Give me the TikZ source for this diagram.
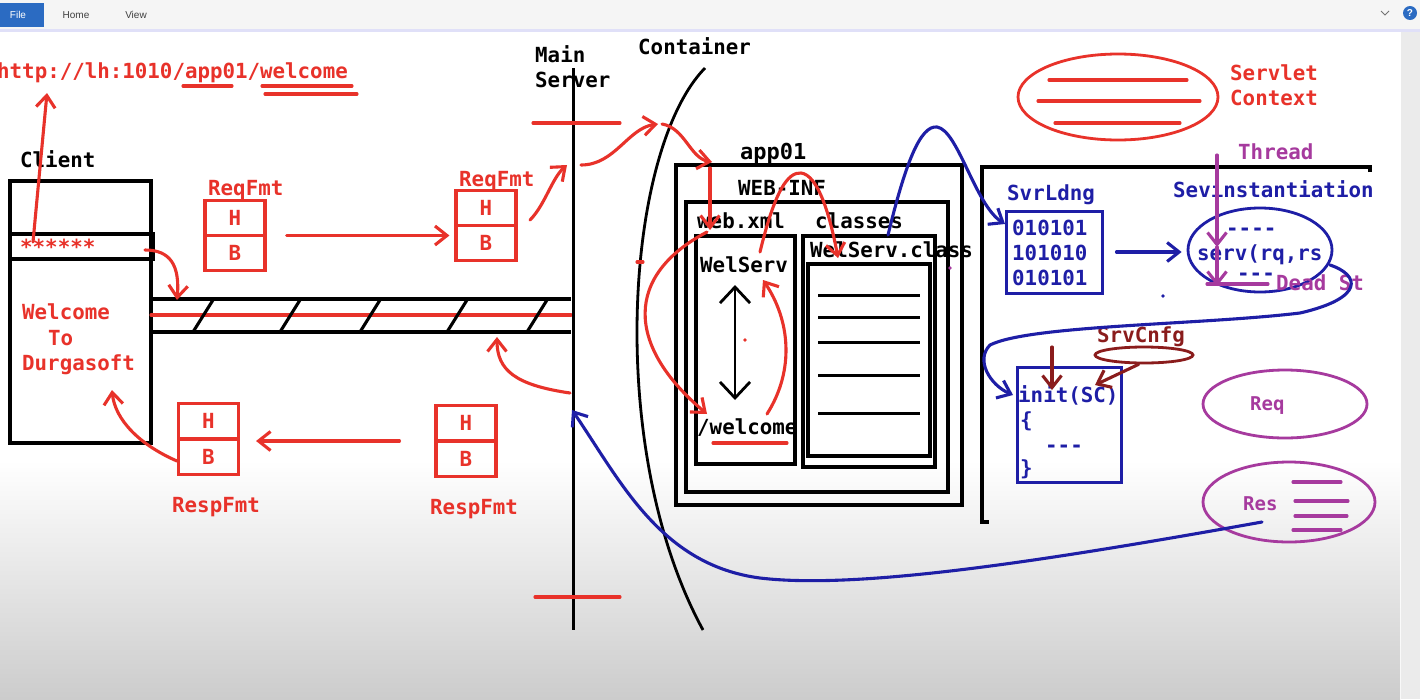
\documentclass[tikz,border=0pt]{standalone}
\usepackage{fontspec}
\setmonofont{DejaVu Sans Mono}
\setsansfont{Liberation Sans}
\usetikzlibrary{arrows.meta,shapes}

\definecolor{paintred}{HTML}{E8322A}
\definecolor{paintblue}{HTML}{1E1EA6}
\definecolor{paintpurple}{HTML}{A63A9E}
\definecolor{paintmaroon}{HTML}{8A1C1C}
\definecolor{ribbonblue}{HTML}{2B6BC2}

\begin{document}
\begin{tikzpicture}[x=1pt,y=-1pt]
\tikzset{every node/.style={inner sep=0pt},
txt/.style={font=\fontsize{20.8}{25}\selectfont\ttfamily\bfseries,anchor=base west},
redtxt/.style={txt,text=paintred},
bluetxt/.style={txt,text=paintblue},
purpletxt/.style={txt,text=paintpurple},
pen/.style={line width=3.1pt,line cap=round,line join=round},
redpen/.style={pen,draw=paintred},
bluepen/.style={pen,draw=paintblue},
purplepen/.style={pen,draw=paintpurple},
maroonpen/.style={pen,draw=paintmaroon},
blackpen/.style={line width=3.5pt,draw=black},
hbbox/.style={rectangle split,rectangle split parts=2,draw=paintred,line width=3.1pt,
  text=paintred,font=\fontsize{20.8}{25}\selectfont\ttfamily\bfseries,
  minimum width=60pt,inner ysep=8.5pt,align=center},
oval/.style={ellipse,line width=2.8pt},
>={Straight Barb[length=12pt,width=19pt]}}
\useasboundingbox (0,0) rectangle (1420,699);

% window
\fill[white] (0,0) rectangle (1420,699);
\shade[top color=white,bottom color=black!20] (0,460) rectangle (1400,699);
\fill[black!4] (0,0) rectangle (1420,29);
\fill[black!22!blue!12] (0,29) rectangle (1420,32);
\fill[ribbonblue] (0,3) rectangle (44,27);
\node[font=\sffamily\fontsize{10}{12}\selectfont,text=white] (menu-file) at (18,15) {File};
\node[font=\sffamily\fontsize{10}{12}\selectfont,text=black!75] (menu-home) at (76,15) {Home};
\node[font=\sffamily\fontsize{10}{12}\selectfont,text=black!75] (menu-view) at (136,15) {View};
\draw[black!55,line width=1pt] (1381,11) -- (1385,15) -- (1389,11);
\node[circle,fill=ribbonblue,text=white,minimum size=14pt,font=\sffamily\bfseries\fontsize{10}{12}\selectfont] (help-icon) at (1410,13) {?};
\fill[black!8] (1401,32) rectangle (1420,699);

% client side
\node[redtxt] (url) at (-3,78) {http://lh:1010/app01/welcome};
\draw[redpen] (183,86) -- (232,86);
\draw[redpen] (262,86) -- (352,86);
\draw[redpen] (265,94) -- (357,94);
\node[txt] (client) at (20,167) {Client};
\draw[blackpen] (10,181) rectangle (151,443);
\draw[blackpen] (10,234) rectangle (153,259);
\node[redtxt] (stars) at (20,254) {******};
\node[redtxt] (welcome) at (22,319) {Welcome};
\node[redtxt] (welcome-to) at (48,345) {To};
\node[redtxt] (durgasoft) at (22,370) {Durgasoft};

% wire
\draw[blackpen] (151,299) -- (571,299) (151,332) -- (571,332);
\draw[redpen] (151,315) -- (571,315);
\foreach \hx in {193,280,360,447,527}
  \draw[line width=3.1pt] (\hx,332) -- ++(20,-32);

% request and response formats
\node[redtxt] (req-lbl-a) at (208,195) {ReqFmt};
\node[hbbox] (req-fmt-a) at (235,235.5) {H\nodepart{second}B};
\node[redtxt] (req-lbl-b) at (459,186) {ReqFmt};
\node[hbbox] (req-fmt-b) at (486,225.5) {H\nodepart{second}B};
\node[hbbox] (resp-fmt-a) at (208.5,439) {H\nodepart{second}B};
\node[redtxt] (resp-lbl-a) at (172,512) {RespFmt};
\node[hbbox] (resp-fmt-b) at (466,441) {H\nodepart{second}B};
\node[redtxt] (resp-lbl-b) at (430,514) {RespFmt};

% main server
\node[txt] (main-lbl) at (535,62) {Main};
\node[txt] (server-lbl) at (535,87) {Server};
\draw[line width=3pt] (573,68) -- (573,630);
\draw[redpen] (533,123) -- (620,123);
\draw[redpen] (535,597) -- (620,597);

% container
\node[txt] (container) at (638,54) {Container};
\draw[line width=2.8pt] (705,68) .. controls (625,150) and (605,450) .. (703,630);
\draw[redpen] (637,262) -- (643,262);

% app01
\node[txt,font=\fontsize{22}{26}\selectfont\ttfamily\bfseries] (app01) at (740,159) {app01};
\draw[blackpen] (676,165) rectangle (962,505);
\draw[blackpen] (686,202) rectangle (948,492);
\node[txt] (web-inf) at (738,195) {WEB-INF};
\node[txt] (web-xml) at (697,228) {web.xml};
\node[txt] (classes) at (815,228) {classes};
\draw[blackpen] (696,236) rectangle (795,464);
\draw[blackpen] (803,236) rectangle (935,467);
\node[txt] (wel-serv) at (700,272) {WelServ};
\node[txt] (wel-class) at (810,257) {WelServ.class};
\draw[blackpen] (808,264) rectangle (930,456);
\foreach \ly in {295,317,342,375,413}
  \draw[line width=3pt] (818,\ly) -- (920,\ly);
\node[txt] (welcome-url) at (697,434) {/welcome};
\draw[redpen] (713,443) -- (787,443);
\draw[line width=2.8pt,{Straight Barb[length=16pt,width=30pt]}-{Straight Barb[length=16pt,width=30pt]}]
  (735,285) -- (735,400);
\fill[paintred] (745,340) circle (1.8);
\fill[paintpurple] (950,268) circle (1.8);

% servlet context
\node[oval,draw=paintred,minimum width=200pt,minimum height=86pt] (ctx-oval) at (1118,97) {};
\draw[redpen] (1049,80) -- (1187,80) (1038,101) -- (1200,101) (1055,123) -- (1180,123);
\node[redtxt] (ctx-lbl-a) at (1230,80) {Servlet};
\node[redtxt] (ctx-lbl-b) at (1230,105) {Context};

% servlet area
\draw[line width=3.5pt] (1370,172) -- (1370,167) -- (982,167) -- (982,522) -- (989,522);
\node[bluetxt] (svr-ldng) at (1007,200) {SvrLdng};
\node[draw=paintblue,line width=3pt,minimum width=96pt,minimum height=82pt] (byte-box) at (1054,252) {};
\node[bluetxt] (bits-a) at (1012,235) {010101};
\node[bluetxt] (bits-b) at (1012,260) {101010};
\node[bluetxt] (bits-c) at (1012,285) {010101};
\node[bluetxt] (inst-lbl) at (1173,197) {Sevinstantiation};
\node[oval,draw=paintblue,minimum width=144pt,minimum height=84pt] (serv-oval) at (1260,250) {};
\node[bluetxt] (serv-top) at (1226,235) {----};
\node[bluetxt] (serv-call) at (1197,260) {serv(rq,rs};
\node[bluetxt] (serv-bot) at (1237,280) {---};
\node[purpletxt] (thread) at (1238,159) {Thread};
\node[purpletxt] (dead-st) at (1276,290) {Dead St};
\fill[paintblue] (1163,296) circle (1.8);

\node[txt,text=paintmaroon] (srv-cnfg) at (1097,342) {SrvCnfg};
\node[oval,draw=paintmaroon,minimum width=98pt,minimum height=16pt] (cnfg-oval) at (1144,355) {};
\node[draw=paintblue,line width=3pt,minimum width=104pt,minimum height=115pt] (init-box) at (1069,424.5) {};
\node[bluetxt] (init-call) at (1018,402) {init(SC)};
\node[bluetxt] (init-open) at (1020,427) {\{};
\node[bluetxt] (init-body) at (1045,452) {---};
\node[bluetxt] (init-close) at (1020,475) {\}};

\node[oval,draw=paintpurple,minimum width=164pt,minimum height=68pt] (req-oval) at (1285,404) {};
\node[purpletxt,font=\fontsize{19}{22}\selectfont\ttfamily\bfseries] (req-lbl) at (1250,410) {Req};
\node[oval,draw=paintpurple,minimum width=172pt,minimum height=80pt] (res-oval) at (1289,502) {};
\node[purpletxt,font=\fontsize{19}{22}\selectfont\ttfamily\bfseries] (res-lbl) at (1243,510) {Res};
\draw[purplepen] (1293,482) -- (1341,482) (1295,501) -- (1348,501)
  (1295,516) -- (1347,516) (1293,530) -- (1341,530);

% red flow
\draw[redpen,->] (33,242) -- (47,93);
\draw[redpen,->] (145,250) .. controls (170,250) and (180,265) .. (177,300);
\draw[redpen,->] ([xshift=20pt]req-fmt-a.east) -- ([xshift=-5pt]req-fmt-a.east -| req-fmt-b.west);
\draw[redpen,->] (530,220) .. controls (545,205) and (552,178) .. (567,165);
\draw[redpen,->] (581,165) .. controls (615,165) and (628,128) .. (658,124);
\draw[redpen,->] (662,124) .. controls (685,128) and (690,158) .. (712,162);
\draw[redpen,->] (710,168) -- (710,230);
\draw[redpen,->] (707,232) .. controls (625,275) and (625,345) .. (707,414);
\draw[redpen,->] (767,414) .. controls (795,370) and (790,320) .. (763,280);
\draw[redpen,->] (760,252) .. controls (775,190) and (788,172) .. (801,173)
  .. controls (818,175) and (830,215) .. (838,258);
\draw[redpen,->] (570,393) .. controls (515,385) and (497,370) .. (497,337);
\draw[redpen,->] ([xshift=-35pt]resp-fmt-b.west) -- ([xshift=16pt]resp-fmt-b.west -| resp-fmt-a.east);
\draw[redpen,->] (177,461) .. controls (140,445) and (115,420) .. (112,390);

% blue flow
\draw[bluepen,->] (888,235) .. controls (905,165) and (920,125) .. (937,127)
  .. controls (958,130) and (975,205) .. (1005,224);
\draw[bluepen,->] ([xshift=13pt]byte-box.east) -- ([xshift=-5pt]byte-box.east -| serv-oval.west);
\draw[bluepen,->] (1330,265) .. controls (1360,275) and (1365,298) .. (1300,313)
  .. controls (1200,325) and (1030,325) .. (990,345)
  .. controls (975,360) and (990,385) .. (1013,395);
\draw[bluepen,->] (1262,522) .. controls (1050,560) and (860,590) .. (760,578)
  .. controls (660,565) and (620,480) .. (572,410);

% thread and config
\draw[purplepen,->] (1217,155) -- (1217,247);
\draw[purplepen,->] (1217,247) -- (1217,286);
\draw[purplepen] (1207,284) -- (1268,284);
\draw[maroonpen,->] (1052,347) -- (1052,390);
\draw[maroonpen,->] (cnfg-oval.-120) -- (1095,385);
\end{tikzpicture}
\end{document}
